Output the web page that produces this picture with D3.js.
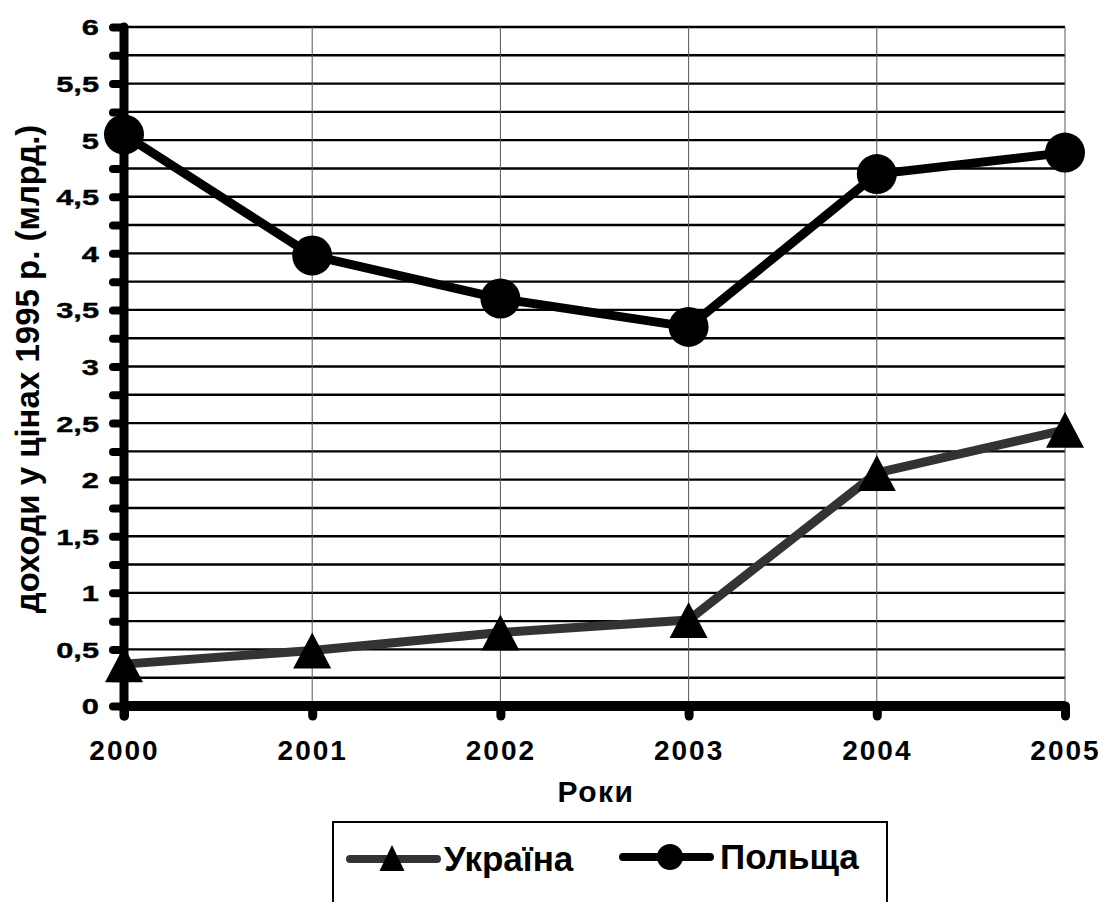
<!DOCTYPE html>
<html>
<head>
<meta charset="utf-8">
<script src="https://cdn.jsdelivr.net/npm/d3@7"></script>
<style>
    body{margin:0;background:#fff;}
    text{font-family:Arial,"Liberation Sans",sans-serif;font-weight:bold;fill:#000;}
</style>
</head>
<body>
<div id="chart"></div>
<script>
//data
const years = [2000, 2001, 2002, 2003, 2004, 2005];
const ukraine = [0.37, 0.49, 0.65, 0.76, 2.06, 2.44];
const poland = [5.05, 3.98, 3.60, 3.35, 4.70, 4.89];
const yTickLabels = ['0', '0,5', '1', '1,5', '2', '2,5', '3', '3,5', '4', '4,5', '5', '5,5', '6'];

const C = {
    WIDTH:1101,
    HEIGHT:902,
    LEFT:124,     //x of the y axis
    RIGHT:1065,   //x of last year
    TOP:27,       //y of value 6
    BOTTOM:706,   //y of value 0
    FONT:'Arial, "Liberation Sans", sans-serif'
};

let svg = d3.select('#chart').append('svg')
    .attr('width',C.WIDTH)
    .attr('height',C.HEIGHT);

//scales
let x = d3.scalePoint().domain(years).range([C.LEFT,C.RIGHT]);
let y = d3.scaleLinear().domain([0,6]).range([C.BOTTOM,C.TOP]);

//horizontal gridlines every 0.25
let minorTicks = d3.range(0.25,6.01,0.25);
svg.append('g')
    .selectAll('line')
    .data(minorTicks)
    .enter()
    .append('line')
    .attr('x1',C.LEFT)
    .attr('x2',C.RIGHT)
    .attr('y1',d=>y(d))
    .attr('y2',d=>y(d))
    .attr('stroke','#000')
    .attr('stroke-width',2.4);

//vertical gridlines
svg.append('g')
    .selectAll('line')
    .data(years.slice(1))
    .enter()
    .append('line')
    .attr('x1',d=>x(d))
    .attr('x2',d=>x(d))
    .attr('y1',C.TOP)
    .attr('y2',C.BOTTOM)
    .attr('stroke','#555')
    .attr('stroke-width',1);

//y axis
let yAxis = d3.axisLeft(y)
    .tickValues(d3.range(0,6.01,0.25))
    .tickSize(12)
    .tickFormat(d=>{
        let i = Math.round(d*2);
        return (Math.abs(d*2 - i) < 1e-6) ? yTickLabels[i] : '';
    });

let gy = svg.append('g')
    .attr('id','y-axis')
    .attr('transform','translate(' + C.LEFT + ',0)')
    .call(yAxis)
    .attr('font-size',null)
    .attr('font-family',null);
gy.select('.domain').remove();
gy.selectAll('.tick line')
    .attr('stroke','#000')
    .attr('stroke-width',8)
    .attr('stroke-linecap','round')
    .attr('x2',-11);
//labels in the picture are stretched sideways
let yStretch = 1.4;
gy.selectAll('.tick text')
    .style('font-size','22px')
    .style('font-family',C.FONT)
    .style('font-weight','bold')
    .style('stroke','#000')
    .style('stroke-width','0.4px')
    .attr('x',-25/yStretch)
    .attr('dy','0.36em')
    .attr('transform','scale(' + yStretch + ',1)');
gy.append('line')
    .attr('x1',0).attr('x2',0)
    .attr('y1',C.TOP).attr('y2',C.BOTTOM + 10)
    .attr('stroke','#000')
    .attr('stroke-width',9)
    .attr('stroke-linecap','round');

//x axis
let xAxis = d3.axisBottom(x).tickSize(10).tickPadding(22);
let gx = svg.append('g')
    .attr('id','x-axis')
    .attr('transform','translate(0,' + C.BOTTOM + ')')
    .call(xAxis)
    .attr('font-size',null)
    .attr('font-family',null);
gx.select('.domain').remove();
gx.append('line')
    .attr('x1',C.LEFT).attr('x2',C.RIGHT)
    .attr('y1',0).attr('y2',0)
    .attr('stroke','#000')
    .attr('stroke-width',10);
gx.selectAll('.tick line')
    .attr('stroke','#000')
    .attr('stroke-width',9)
    .attr('stroke-linecap','round');
gx.selectAll('.tick text')
    .style('font-size','28px')
    .style('font-family',C.FONT)
    .style('font-weight','bold')
    .style('letter-spacing','2px')
    .attr('y',54)
    .attr('dy',0)
    .text(d=>String(d));

//axis titles
svg.append('text')
    .attr('x',596)
    .attr('y',802)
    .attr('text-anchor','middle')
    .style('font-size','30px')
    .style('letter-spacing','1.5px')
    .text('Роки');

svg.append('text')
    .attr('transform','translate(39,369) rotate(-90)')
    .attr('text-anchor','middle')
    .style('font-size','33px')
    .text('доходи у цінах 1995 р. (млрд.)');

//markers
function trianglePath(w,h){
    return 'M0,' + (-h/2) + 'L' + (w/2) + ',' + (h/2) + 'L' + (-w/2) + ',' + (h/2) + 'Z';
}

//lines
let line = d3.line().x((d,i)=>x(years[i])).y(d=>y(d));

function drawSeries(values,color,marker){
    svg.append('path')
        .datum(values)
        .attr('d',line)
        .attr('fill','none')
        .attr('stroke',color)
        .attr('stroke-width',9)
        .attr('stroke-linejoin','round');
    if(marker == 'circle'){
        svg.append('g').selectAll('circle')
            .data(values)
            .enter()
            .append('circle')
            .attr('cx',(d,i)=>x(years[i]))
            .attr('cy',d=>y(d))
            .attr('r',20)
            .attr('fill','#000');
    }
    else{
        svg.append('g').selectAll('path')
            .data(values)
            .enter()
            .append('path')
            .attr('d',trianglePath(38,36))
            .attr('transform',(d,i)=>'translate(' + x(years[i]) + ',' + y(d) + ')')
            .attr('fill','#000');
    }
}

drawSeries(ukraine,'#333','triangle');
drawSeries(poland,'#000','circle');

//legend
let legend = svg.append('g').attr('id','legend');
legend.append('rect')
    .attr('x',333)
    .attr('y',822)
    .attr('width',554)
    .attr('height',100)
    .attr('fill','#fff')
    .attr('stroke','#000')
    .attr('stroke-width',2);

let legendItems = [
    {name:'Україна',color:'#333',marker:'triangle',x0:350,y0:859},
    {name:'Польща',color:'#000',marker:'circle',x0:623,y0:857}
];
legendItems.forEach(item=>{
    let g = legend.append('g').attr('transform','translate(' + item.x0 + ',' + item.y0 + ')');
    g.append('line')
        .attr('x1',0).attr('x2',87)
        .attr('y1',0).attr('y2',0)
        .attr('stroke',item.color)
        .attr('stroke-width',8)
        .attr('stroke-linecap','round');
    if(item.marker == 'circle'){
        g.append('circle').attr('cx',47).attr('cy',0).attr('r',13).attr('fill','#000');
    }
    else{
        g.append('path')
            .attr('d',trianglePath(25,26))
            .attr('transform','translate(42,-1)')
            .attr('fill','#000');
    }
    g.append('text')
        .attr('x',item.marker == 'circle' ? 97 : 94)
        .attr('y',12)
        .style('font-size','35px')
        .text(item.name);
});
</script>
</body>
</html>
